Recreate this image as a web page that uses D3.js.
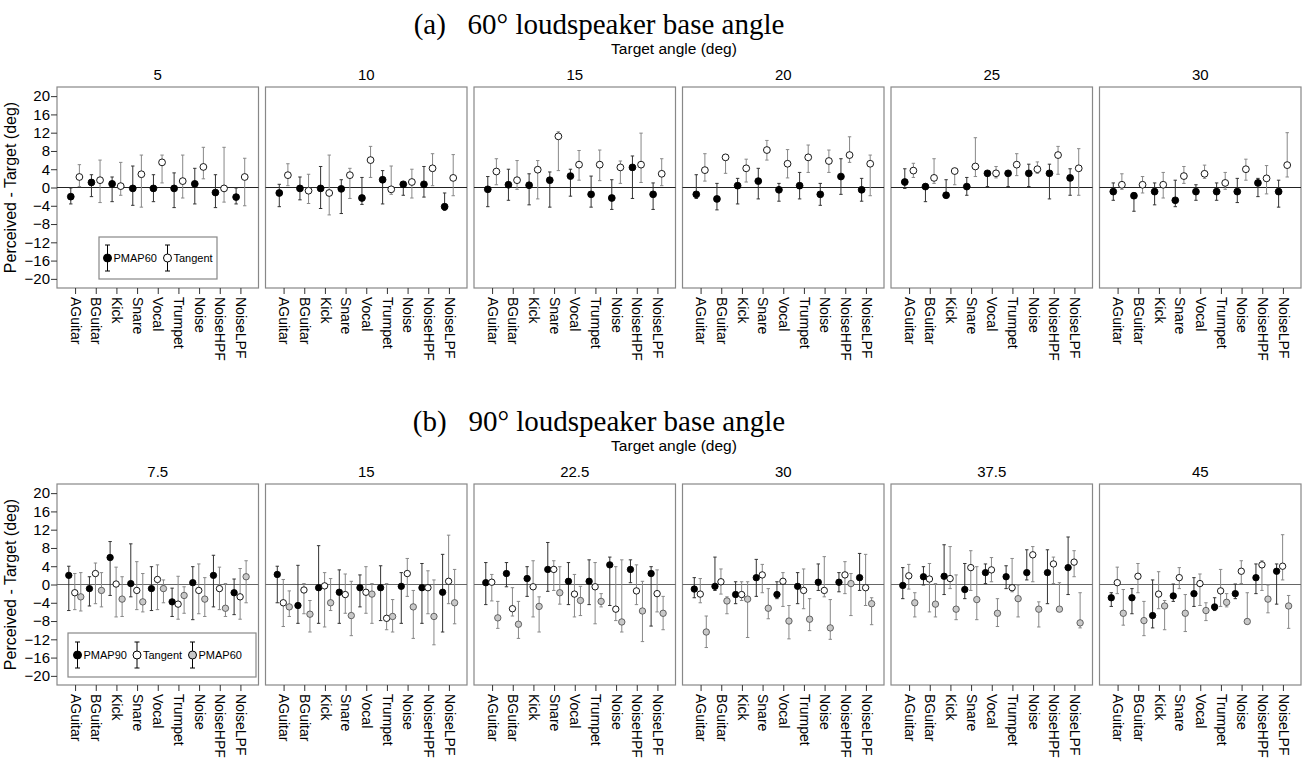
<!DOCTYPE html>
<html>
<head>
<meta charset="utf-8">
<script src="https://cdn.jsdelivr.net/npm/d3@7"></script>
<style>
  body { margin: 0; background: #fff; }
  svg { display: block; font-family: "Liberation Sans", Arial, sans-serif; }
</style>
</head>
<body>
<svg id="chart"></svg>
<script>
// Categories and panel headers
const categories = ["AGuitar", "BGuitar", "Kick", "Snare", "Vocal", "Trumpet", "Noise", "NoiseHPF", "NoiseLPF"];
const targetsA = ["5", "10", "15", "20", "25", "30"];
const targetsB = ["7.5", "15", "22.5", "30", "37.5", "45"];
const yTicks = [-20, -16, -12, -8, -4, 0, 4, 8, 12, 16, 20];

// (a) 60 deg base: [mean, low, high] per category, one row per target angle
const aPMAP60 = [
  [[-2.0,-3.6,-0.1],[1.1,-2.0,2.8],[0.8,-3.1,2.3],[-0.2,-3.9,4.7],[-0.2,-3.1,2.8],[-0.2,-4.4,3.2],[0.8,-3.6,4.2],[-1.1,-4.4,2.8],[-2.1,-3.6,-0.1]],
  [[-1.2,-4.2,0.7],[-0.2,-2.7,2.3],[-0.2,-4.6,4.6],[-0.3,-5.7,1.7],[-2.3,-3.7,2.2],[1.7,-3.6,3.7],[0.7,-1.7,1.1],[0.7,-2.1,4.6],[-4.2,-5.0,-1.2]],
  [[-0.4,-4.2,2.4],[0.6,-2.8,4.0],[0.5,-3.8,3.0],[1.6,-4.3,3.4],[2.5,-1.9,4.0],[-1.5,-4.3,2.5],[-2.3,-4.8,1.7],[4.4,-2.4,6.9],[-1.5,-4.8,1.0]],
  [[-1.5,-2.4,2.8],[-2.5,-4.9,0.9],[0.4,-3.6,2.0],[1.4,-2.5,4.2],[-0.5,-3.0,0.9],[0.4,-2.5,3.3],[-1.5,-3.9,0.9],[2.4,-1.5,6.3],[-0.5,-3.0,2.0]],
  [[1.2,-0.2,4.1],[0.2,-3.1,0.8],[-1.7,-1.9,1.7],[0.2,-1.7,2.2],[3.1,0.2,3.5],[3.1,0.2,3.6],[3.1,0.2,5.1],[3.1,-2.5,5.1],[2.1,-1.7,4.1]],
  [[-0.9,-2.8,1.0],[-1.8,-5.2,-1.2],[-0.9,-3.8,1.0],[-2.8,-4.2,1.6],[-0.9,-2.8,0.6],[-0.9,-2.8,1.0],[-0.9,-3.3,2.0],[1.0,-2.0,2.0],[-0.9,-4.3,1.6]]
];
const aTangent = [
  [[2.3,0.2,5.0],[1.6,-3.3,6.0],[0.3,-1.7,5.5],[2.9,-4.3,7.1],[5.5,1.0,7.1],[1.4,-2.3,7.1],[4.5,1.9,8.8],[-0.2,-3.2,8.8],[2.3,-4.0,6.4]],
  [[2.7,0.4,5.2],[-0.7,-3.5,2.9],[-1.2,-6.0,7.1],[2.7,-2.4,4.2],[6.0,2.2,9.0],[-0.4,-1.5,4.7],[1.2,-2.3,4.0],[4.2,0.4,7.4],[2.1,-1.8,7.2]],
  [[3.5,0.6,6.3],[1.6,-0.4,5.9],[3.9,-2.5,5.9],[11.2,3.7,12.2],[5.0,1.6,8.1],[5.0,1.5,8.2],[4.4,0.9,5.8],[5.0,1.1,11.9],[3.0,0.4,6.3]],
  [[3.8,1.4,7.4],[6.6,3.1,6.8],[4.2,1.2,6.2],[8.2,6.0,10.3],[5.2,2.1,8.3],[6.6,3.3,9.3],[5.8,3.3,8.2],[7.1,5.5,11.1],[5.2,-1.8,7.1]],
  [[3.7,2.2,5.3],[2.1,0.9,6.3],[3.6,0.6,3.9],[4.6,2.4,10.9],[3.1,2.1,4.6],[5.0,2.6,7.4],[4.0,3.1,5.6],[7.1,2.9,9.0],[4.2,-1.7,8.5]],
  [[0.6,-0.4,3.0],[0.6,-1.2,2.4],[0.6,-2.3,3.3],[2.5,0.9,4.6],[3.0,2.0,4.9],[1.0,-0.4,3.3],[4.0,1.6,6.2],[2.0,-1.4,4.8],[4.9,2.3,12.0]]
];

// (b) 90 deg base
const bPMAP90 = [
  [[2.0,-5.7,4.0],[-0.9,-4.7,1.7],[5.9,-2.4,9.4],[0.2,-2.7,8.9],[-0.9,-5.7,3.9],[-3.8,-7.0,-0.8],[0.4,-7.7,3.9],[2.0,-4.9,6.4],[-1.8,-6.6,1.2]],
  [[2.2,-4.0,4.0],[-4.6,-8.5,4.2],[-0.7,-8.5,8.5],[-1.7,-8.5,3.2],[-0.7,-4.9,2.1],[-0.7,-7.9,4.1],[-0.4,-8.5,2.6],[-0.7,-8.5,4.6],[-1.7,-10.4,6.6]],
  [[0.4,-4.4,4.8],[2.4,-0.5,4.8],[1.3,-2.6,3.9],[3.3,-1.5,9.2],[0.7,-4.4,4.8],[0.7,-4.4,5.4],[4.3,-4.6,6.0],[3.3,0.4,5.4],[2.4,-9.1,3.9]],
  [[-1.0,-2.9,1.5],[-0.4,-1.3,6.0],[-2.2,-4.2,0.6],[1.5,-2.6,5.5],[-2.2,-3.1,0.6],[-0.4,-4.2,2.6],[0.5,-1.3,4.5],[0.5,-1.6,2.6],[1.5,-1.3,6.8]],
  [[-0.2,-3.1,3.7],[1.7,-0.1,3.9],[1.8,-2.2,8.7],[-1.1,-3.1,4.6],[2.6,0.2,4.5],[1.7,-0.9,4.1],[2.6,1.0,7.6],[2.6,-4.2,7.6],[3.7,-2.2,10.4]],
  [[-2.9,-4.8,-1.8],[-2.9,-6.4,-0.9],[-6.8,-9.5,1.0],[-2.5,-3.7,0.1],[-2.0,-4.8,1.5],[-4.9,-5.7,-2.9],[-2.0,-3.1,0.1],[1.5,-2.0,4.5],[2.9,-4.3,4.5]]
];
const bTangent = [
  [[-1.8,-5.5,2.4],[2.4,-4.2,4.7],[0.1,-7.1,3.8],[-1.3,-5.5,5.0],[1.1,-5.5,4.3],[-4.3,-7.6,1.8],[-1.3,-6.4,4.5],[-0.9,-5.5,3.8],[-2.7,-7.6,3.5]],
  [[-4.0,-9.2,1.1],[-1.2,-6.4,0.2],[-0.3,-9.3,2.6],[-2.2,-6.3,2.3],[-1.7,-6.3,3.9],[-7.4,-9.9,0.2],[2.4,-2.6,5.7],[-0.7,-6.4,3.0],[0.7,-4.2,10.8]],
  [[0.5,-3.6,2.2],[-5.3,-6.9,-0.7],[-0.5,-7.1,5.2],[3.3,-1.3,5.2],[-2.1,-7.1,2.2],[-0.5,-8.6,4.8],[-5.4,-7.9,3.9],[-1.4,-4.4,4.3],[-2.0,-6.0,3.2]],
  [[-2.1,-4.0,1.3],[0.6,-2.1,3.4],[-2.2,-3.5,0.6],[2.1,-1.8,4.4],[0.7,-4.8,2.6],[-1.3,-5.3,3.4],[-1.3,-2.7,6.1],[2.1,-2.0,5.0],[-0.7,-4.6,6.6]],
  [[1.9,-1.0,4.4],[1.2,-6.0,4.6],[1.3,-0.9,8.3],[3.7,-1.3,7.4],[3.2,0.6,5.9],[-0.7,-1.6,5.7],[6.5,0.6,8.3],[4.5,0.2,6.0],[4.9,1.7,7.4]],
  [[0.4,-2.0,3.8],[1.8,-1.8,4.6],[-2.1,-5.3,2.8],[1.5,-0.9,3.7],[0.2,-4.6,2.3],[-1.4,-4.8,3.3],[2.9,0.2,5.2],[4.3,-1.3,5.2],[4.0,1.0,10.9]]
];
const bPMAP60 = [
  [[-2.7,-5.8,2.6],[-1.3,-4.9,2.6],[-3.2,-7.0,1.7],[-3.8,-6.0,2.4],[-0.9,-4.0,1.0],[-2.4,-6.3,-0.5],[-3.2,-7.0,1.5],[-5.2,-7.0,0.2],[1.7,-4.0,5.2]],
  [[-4.9,-7.0,-1.4],[-6.5,-10.4,-3.5],[-4.0,-5.7,1.3],[-6.8,-11.2,0.7],[-2.1,-8.5,0.2],[-7.0,-10.4,-3.3],[-4.9,-11.8,-1.3],[-7.0,-13.2,1.0],[-4.0,-8.6,3.3]],
  [[-7.3,-9.6,-3.7],[-8.7,-11.8,-3.7],[-4.8,-10.4,-2.7],[-1.8,-4.3,3.9],[-3.5,-6.8,-0.4],[-3.7,-4.9,-2.0],[-8.2,-10.4,5.4],[-5.8,-12.5,0.7],[-6.3,-9.9,-2.6]],
  [[-10.4,-13.8,-6.9],[-3.6,-6.4,-2.7],[-3.2,-11.6,0.6],[-5.2,-7.5,-0.9],[-8.0,-11.9,-4.6],[-7.6,-10.1,-3.1],[-9.5,-12.0,-3.3],[0.2,-6.8,2.4],[-4.2,-8.8,-2.9]],
  [[-4.0,-7.1,-1.8],[-4.3,-7.1,0.2],[-5.4,-7.7,2.1],[-3.3,-7.7,3.9],[-6.3,-9.2,-3.1],[-3.1,-7.1,-0.1],[-5.4,-9.3,-3.8],[-5.4,-5.4,0.4],[-8.4,-9.5,-1.8]],
  [[-6.3,-8.9,-1.1],[-7.9,-11.2,-3.7],[-4.7,-9.9,-3.5],[-6.3,-10.3,-2.2],[-5.7,-7.9,-4.0],[-3.9,-4.9,-2.0],[-8.1,-8.6,-1.8],[-3.2,-6.2,-0.1],[-4.7,-9.6,-2.4]]
];

const W = 1305, H = 763;
const svg = d3.select("#chart").attr("width", W).attr("height", H);

const plotLeft = 57, panelW = 201.5, gap = 7;
const panelH = 201;
const topA = 87, topB = 484;

const yA = d3.scaleLinear().domain([-22, 22]).range([topA + panelH, topA]);
const yB = d3.scaleLinear().domain([-22, 22]).range([topB + panelH, topB]);

// series styles
const styles = {
  black: { fill: "#000", stroke: "#000", bar: "#333" },
  white: { fill: "#fff", stroke: "#000", bar: "#888" },
  gray:  { fill: "#c8c8c8", stroke: "#555", bar: "#888" }
};

function errMark(g, x, y, mean, lo, hi, st, r) {
  g.append("line").attr("x1", x).attr("x2", x).attr("y1", y(lo)).attr("y2", y(hi))
    .attr("stroke", st.bar).attr("stroke-width", 1);
  [lo, hi].forEach(v => {
    g.append("line").attr("x1", x - 1.7).attr("x2", x + 1.7).attr("y1", y(v)).attr("y2", y(v))
      .attr("stroke", st.bar).attr("stroke-width", 1);
  });
  g.append("circle").attr("cx", x).attr("cy", y(mean)).attr("r", r)
    .attr("fill", st.fill).attr("stroke", st.stroke).attr("stroke-width", 0.9);
}

function drawSection(top, y, targets, series, zeroColor) {
  targets.forEach((t, pi) => {
    const left = plotLeft + pi * (panelW + gap);
    const x = d3.scalePoint().domain(categories).range([left, left + panelW]).padding(0.875);
    const g = svg.append("g");

    g.append("rect").attr("x", left).attr("y", top).attr("width", panelW).attr("height", panelH)
      .attr("fill", "#fff").attr("stroke", "#888").attr("stroke-width", 1.2);

    g.append("line").attr("x1", left).attr("x2", left + panelW)
      .attr("y1", y(0)).attr("y2", y(0)).attr("stroke", zeroColor).attr("stroke-width", 1.2);

    // panel header
    g.append("text").attr("x", left + panelW / 2).attr("y", top - 7)
      .attr("text-anchor", "middle").attr("font-size", 15).text(t);

    // x axis
    const xAxis = g.append("g").attr("transform", `translate(0,${top + panelH})`)
      .call(d3.axisBottom(x).tickSize(6).tickPadding(3));
    xAxis.select(".domain").remove();
    xAxis.selectAll(".tick line").attr("stroke", "#333");
    xAxis.selectAll(".tick text")
      .attr("font-size", 14).attr("fill", "#000")
      .style("font-family", "'Liberation Sans', Arial, sans-serif")
      .attr("transform", "rotate(90)")
      .attr("text-anchor", "start").attr("dy", "0.35em").attr("x", 9).attr("y", 0);

    // marks
    series.forEach(s => {
      s.data[pi].forEach((d, ci) => {
        errMark(g, x(categories[ci]) + s.dx, y, d[0], d[1], d[2], s.style, s.r);
      });
    });

    if (pi === 0) {
      const yAxis = g.append("g").attr("transform", `translate(${left},0)`)
        .call(d3.axisLeft(y).tickValues(yTicks).tickSize(6).tickPadding(1));
      yAxis.select(".domain").remove();
      yAxis.selectAll(".tick line").attr("stroke", "#333");
      yAxis.selectAll(".tick text").attr("font-size", 15).attr("fill", "#000")
        .style("font-family", "'Liberation Sans', Arial, sans-serif");
      g.append("text")
        .attr("transform", `translate(16,${top + panelH / 2}) rotate(-90)`)
        .attr("text-anchor", "middle").attr("font-size", 16)
        .text("Perceived - Target (deg)");
    }
  });
}

function sectionTitle(yBase, text) {
  svg.append("text").attr("x", 599).attr("y", yBase).attr("text-anchor", "middle")
    .attr("xml:space", "preserve")
    .style("font-family", "'Liberation Serif', 'Times New Roman', serif")
    .attr("font-size", 29).text(text);
  svg.append("text").attr("x", 674).attr("y", yBase + 19.5).attr("text-anchor", "middle")
    .attr("font-size", 15.5).text("Target angle (deg)");
}

// Section (a)
sectionTitle(34, "(a)   60° loudspeaker base angle");
drawSection(topA, yA, targetsA, [
  { data: aPMAP60, style: styles.black, dx: -4.3, r: 3.4 },
  { data: aTangent, style: styles.white, dx: 4.3, r: 3.4 }
], "#222");

// Section (b)
sectionTitle(431, "(b)   90° loudspeaker base angle");
drawSection(topB, yB, targetsB, [
  { data: bPMAP90, style: styles.black, dx: -6.3, r: 3.2 },
  { data: bTangent, style: styles.white, dx: -0.3, r: 3.2 },
  { data: bPMAP60, style: styles.gray, dx: 5.7, r: 3.2 }
], "#666");

// Legends
function legend(x0, y0, w, h, items) {
  const g = svg.append("g");
  g.append("rect").attr("x", x0).attr("y", y0).attr("width", w).attr("height", h)
    .attr("fill", "#fff").attr("stroke", "#888").attr("stroke-width", 1.2);
  const cy = y0 + h / 2;
  items.forEach(it => {
    const st = it.style;
    g.append("line").attr("x1", it.x).attr("x2", it.x).attr("y1", cy - 13).attr("y2", cy + 13)
      .attr("stroke", "#000");
    [cy - 13, cy + 13].forEach(v => g.append("line").attr("x1", it.x - 2.5).attr("x2", it.x + 2.5)
      .attr("y1", v).attr("y2", v).attr("stroke", "#000"));
    g.append("circle").attr("cx", it.x).attr("cy", cy).attr("r", 4)
      .attr("fill", st.fill).attr("stroke", "#000");
    g.append("text").attr("x", it.x + 6).attr("y", cy + 4).attr("font-size", 11).text(it.label);
  });
}
legend(99, 237, 118, 42, [
  { x: 107.5, label: "PMAP60", style: styles.black },
  { x: 167.5, label: "Tangent", style: styles.white }
]);
legend(68, 633, 188, 44, [
  { x: 77.5, label: "PMAP90", style: styles.black },
  { x: 137, label: "Tangent", style: styles.white },
  { x: 192.5, label: "PMAP60", style: styles.gray }
]);
</script>
</body>
</html>
